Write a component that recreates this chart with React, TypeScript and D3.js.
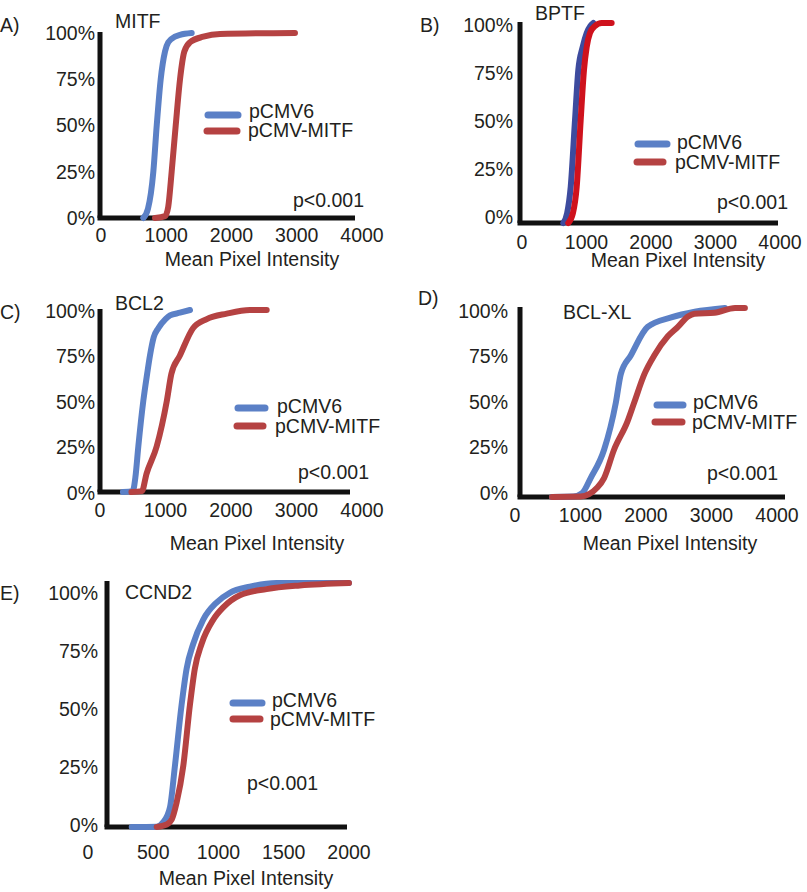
import React from "react";
import * as d3 from "d3";

// ---------- data ----------
const panelLabels = ["A)", "B)", "C)", "D)", "E)"];
const geneNames = ["MITF", "BPTF", "BCL2", "BCL-XL", "CCND2"];
const seriesNames = ["pCMV6", "pCMV-MITF"];
const pValueText = "p<0.001";
const xAxisTitle = "Mean Pixel Intensity";
const xTicksWide = [0, 1000, 2000, 3000, 4000];
const xTicksNarrow = [0, 500, 1000, 1500, 2000];
const yTicks = [0, 0.25, 0.5, 0.75, 1];
const yTickLabels = ["0%", "25%", "50%", "75%", "100%"];

type Pt = [number, number];

const mitfControl: Pt[] = [[648, 0], [720, 0.05], [802, 0.25], [854, 0.5], [915, 0.75], [981, 0.9], [1031, 0.95], [1134, 0.98], [1211, 0.99], [1390, 1.0]];
const mitfMitf: Pt[] = [[828, 0], [981, 0.01], [1030, 0.06], [1083, 0.25], [1145, 0.5], [1211, 0.75], [1277, 0.9], [1364, 0.95], [1568, 0.98], [1824, 0.995], [2973, 1.0]];

const bptfControl: Pt[] = [[640, 0], [700, 0.05], [755, 0.18], [822, 0.515], [873, 0.765], [941, 0.88], [1003, 0.95], [1060, 0.985], [1105, 1.0]];
const bptfMitf: Pt[] = [[718, 0], [790, 0.05], [848, 0.18], [910, 0.515], [961, 0.765], [1003, 0.88], [1054, 0.95], [1132, 0.985], [1235, 1.0], [1390, 1.0]];

const bcl2Control: Pt[] = [[350, 0], [500, 0.005], [540, 0.08], [585, 0.25], [661, 0.5], [720, 0.65], [763, 0.75], [820, 0.85], [890, 0.9], [1000, 0.95], [1069, 0.97], [1221, 0.985], [1374, 1.0]];
const bcl2Mitf: Pt[] = [[480, 0], [640, 0.005], [710, 0.1], [865, 0.25], [1020, 0.5], [1090, 0.65], [1220, 0.75], [1420, 0.9], [1630, 0.95], [1935, 0.98], [2290, 1.0], [2545, 1.0]];

const bclxlControl: Pt[] = [[565, 0], [890, 0.002], [1025, 0.02], [1155, 0.1], [1360, 0.25], [1540, 0.5], [1615, 0.65], [1770, 0.75], [2025, 0.9], [2385, 0.95], [2745, 0.98], [3205, 1.0]];
const bclxlMitf: Pt[] = [[565, 0], [1000, 0.002], [1257, 0.05], [1360, 0.1], [1512, 0.25], [1718, 0.4], [1820, 0.5], [1975, 0.65], [2128, 0.75], [2333, 0.85], [2487, 0.9], [2641, 0.955], [2740, 0.97], [3046, 0.975], [3360, 1.0], [3510, 1.0]];

const ccnd2Control: Pt[] = [[335, 0], [526, 0.001], [577, 0.02], [628, 0.08], [666, 0.25], [717, 0.5], [756, 0.65], [806, 0.75], [883, 0.85], [985, 0.92], [1087, 0.96], [1240, 0.985], [1445, 1.0], [2000, 1.0]];
const ccnd2Mitf: Pt[] = [[526, 0], [603, 0.01], [641, 0.03], [679, 0.1], [730, 0.25], [781, 0.5], [819, 0.65], [870, 0.75], [960, 0.85], [1036, 0.9], [1164, 0.95], [1368, 0.975], [1623, 0.99], [2000, 1.0]];

// ---------- layout ----------
const FONT = "'Liberation Sans', Arial, Helvetica, sans-serif";
const FS = 19.5;
const TEXT = "#231f20";
const BLUE = "#5b80c6";
const RED = "#b54242";
const BLUE_DARK = "#3d4b9e";
const RED_BRIGHT = "#cf121d";

interface Layout {
  axisX: number; axisTop: number; axisBottom: number; axisRight: number;
  xRange: [number, number]; yData: [number, number]; yLab: [number, number];
  labRight: number; xTickY: number; title: [number, number];
  panelLabel: [number, number]; gene: [number, number];
  legBlue: [number, number, number]; legRed: [number, number, number];
  legText: [number, number, number, number];
  p: [number, number];
}

const layouts: Layout[] = [
  { axisX: 100, axisTop: 32, axisBottom: 218, axisRight: 355, xRange: [101, 362], yData: [218, 33], yLab: [218, 33], labRight: 95, xTickY: 235, title: [252, 259], panelLabel: [0, 25], gene: [115, 21], legBlue: [208, 238, 115], legRed: [207, 237, 131], legText: [249, 111, 248, 130], p: [293, 200] },
  { axisX: 520, axisTop: 22, axisBottom: 223, axisRight: 778, xRange: [522, 780], yData: [223, 23], yLab: [217, 25], labRight: 513, xTickY: 242, title: [678, 260], panelLabel: [420, 25], gene: [535, 13], legBlue: [638, 667, 144], legRed: [637, 663, 162], legText: [677, 142, 675, 162], p: [717, 202] },
  { axisX: 100, axisTop: 309, axisBottom: 492, axisRight: 350, xRange: [100, 362], yData: [492, 310], yLab: [493, 311], labRight: 95, xTickY: 510, title: [257, 543], panelLabel: [0, 312], gene: [115, 303], legBlue: [238, 265, 408], legRed: [237, 263, 426], legText: [277, 406, 275, 426], p: [298, 472] },
  { axisX: 520, axisTop: 307, axisBottom: 497, axisRight: 785, xRange: [515, 777], yData: [497, 308], yLab: [493, 311], labRight: 508, xTickY: 515, title: [670, 543], panelLabel: [418, 298], gene: [563, 312], legBlue: [657, 683, 405], legRed: [655, 682, 422], legText: [693, 402, 692, 422], p: [707, 473] },
  { axisX: 107, axisTop: 581, axisBottom: 827, axisRight: 347, xRange: [88, 349], yData: [827, 583], yLab: [825, 593], labRight: 98, xTickY: 852, title: [246, 878], panelLabel: [0, 593], gene: [125, 592], legBlue: [233, 262, 703], legRed: [233, 260, 719], legText: [272, 700, 270, 719], p: [247, 783] },
];

const panelSeries: [Pt[], Pt[]][] = [
  [mitfControl, mitfMitf],
  [bptfControl, bptfMitf],
  [bcl2Control, bcl2Mitf],
  [bclxlControl, bclxlMitf],
  [ccnd2Control, ccnd2Mitf],
];
const panelTicks = [xTicksWide, xTicksWide, xTicksWide, xTicksWide, xTicksNarrow];
const panelColors: [string, string][] = [
  [BLUE, RED], [BLUE_DARK, RED_BRIGHT], [BLUE, RED], [BLUE, RED], [BLUE, RED],
];

function Panel({ i }: { i: number }) {
  const L = layouts[i];
  const ticks = panelTicks[i];
  const x = d3.scaleLinear().domain([0, ticks[ticks.length - 1]]).range(L.xRange);
  const y = d3.scaleLinear().domain([0, 1]).range(L.yData);
  const yl = d3.scaleLinear().domain([0, 1]).range(L.yLab);
  const line = d3
    .line<Pt>()
    .x((d) => x(d[0]))
    .y((d) => y(d[1]))
    .curve(d3.curveMonotoneX);
  const [s0, s1] = panelSeries[i];
  const [c0, c1] = panelColors[i];
  const t = { fontFamily: FONT, fontSize: FS, fill: TEXT } as const;
  return (
    <g>
      <text x={L.panelLabel[0]} y={L.panelLabel[1]} dy="0.35em" {...t}>{panelLabels[i]}</text>
      <text x={L.gene[0]} y={L.gene[1]} dy="0.35em" {...t}>{geneNames[i]}</text>
      {/* axes */}
      <line x1={L.axisX} x2={L.axisX} y1={L.axisTop} y2={L.axisBottom} stroke="#111" strokeWidth={5} />
      <line x1={L.axisX - 2.5} x2={L.axisRight} y1={L.axisBottom} y2={L.axisBottom} stroke="#111" strokeWidth={5} />
      {yTicks.map((v, k) => (
        <text key={"y" + k} x={L.labRight} y={yl(v)} dy="0.35em" textAnchor="end" {...t}>{yTickLabels[k]}</text>
      ))}
      {ticks.map((v) => (
        <text key={"x" + v} x={x(v)} y={L.xTickY} dy="0.35em" textAnchor="middle" {...t}>{v}</text>
      ))}
      <text x={L.title[0]} y={L.title[1]} dy="0.35em" textAnchor="middle" {...t}>{xAxisTitle}</text>
      {/* curves */}
      <path d={line(s0) || ""} fill="none" stroke={c0} strokeWidth={6} strokeLinecap="round" strokeLinejoin="round" />
      <path d={line(s1) || ""} fill="none" stroke={c1} strokeWidth={6} strokeLinecap="round" strokeLinejoin="round" />
      {/* legend */}
      <line x1={L.legBlue[0]} x2={L.legBlue[1]} y1={L.legBlue[2]} y2={L.legBlue[2]} stroke={BLUE} strokeWidth={7} strokeLinecap="round" />
      <line x1={L.legRed[0]} x2={L.legRed[1]} y1={L.legRed[2]} y2={L.legRed[2]} stroke={RED} strokeWidth={7} strokeLinecap="round" />
      <text x={L.legText[0]} y={L.legText[1]} dy="0.35em" {...t}>{seriesNames[0]}</text>
      <text x={L.legText[2]} y={L.legText[3]} dy="0.35em" {...t}>{seriesNames[1]}</text>
      <text x={L.p[0]} y={L.p[1]} dy="0.35em" {...t}>{pValueText}</text>
    </g>
  );
}

export default function App() {
  return (
    <svg
      width={807}
      height={892}
      viewBox="0 0 807 892"
      style={{ position: "absolute", left: 0, top: 0, background: "#fff" }}
    >
      <rect width={807} height={892} fill="#fff" />
      {layouts.map((_, i) => (
        <Panel key={i} i={i} />
      ))}
    </svg>
  );
}
